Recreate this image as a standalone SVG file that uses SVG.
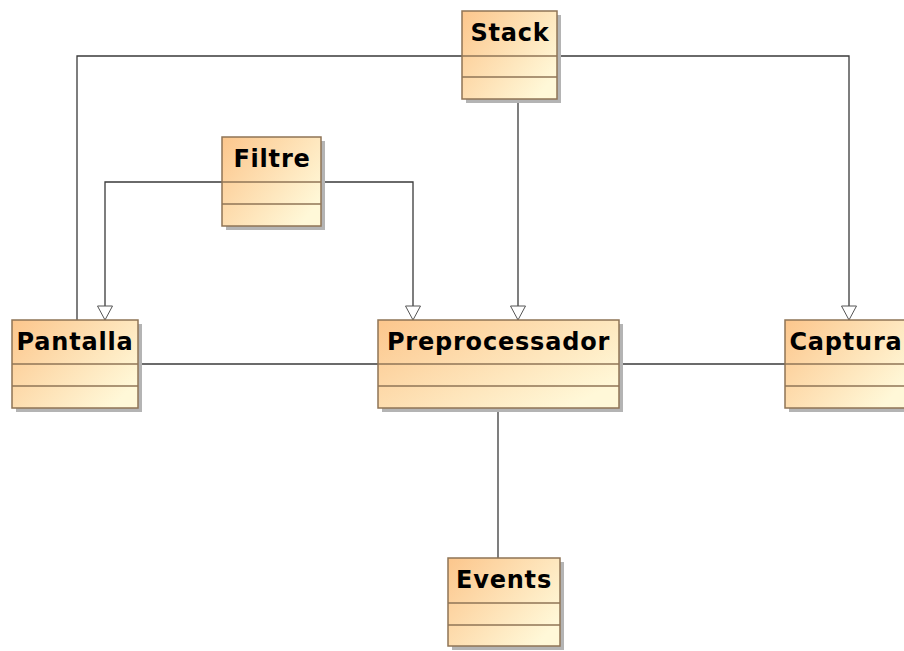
<svg xmlns="http://www.w3.org/2000/svg" width="904" height="651" viewBox="0 0 904 651">
  <defs>
    <linearGradient id="classFill" x1="0" y1="0" x2="1" y2="0.7">
      <stop offset="0" stop-color="#fcc68c"/>
      <stop offset="1" stop-color="#fff8d8"/>
    </linearGradient>
    <marker id="gen" viewBox="0 0 16 16" refX="15" refY="8" markerWidth="16" markerHeight="16" markerUnits="userSpaceOnUse" orient="auto">
      <path d="M1,0.5 L15,8 L1,15.5 Z" fill="#ffffff" stroke="#555555" stroke-width="1"/>
    </marker>
  </defs>
  <style>
    .shadow { fill: #b4b4b4; }
    .box { fill: url(#classFill); stroke: #8f7456; stroke-width: 1.5; }
    .div { stroke: #8f7456; stroke-width: 1.5; fill: none; }
    .name { font-family: "DejaVu Sans", Verdana, sans-serif; font-weight: bold; font-size: 24px; letter-spacing: 0.8px; fill: #000000; text-anchor: middle; }
    .conn { fill: none; stroke: #3a3a3a; stroke-width: 1.3; }
  </style>
  <rect width="904" height="651" fill="#ffffff"/>

  <!-- connectors -->
  <g id="connectors">
    <!-- Stack to Pantalla -->
    <polyline class="conn" points="462,56 77,56 77,320"/>
    <!-- Stack to Captura (generalization) -->
    <polyline class="conn" points="557,56 849,56 849,320" marker-end="url(#gen)"/>
    <!-- Stack to Preprocessador (generalization) -->
    <line class="conn" x1="518" y1="100" x2="518" y2="320" marker-end="url(#gen)"/>
    <!-- Filtre to Pantalla (generalization) -->
    <polyline class="conn" points="222,182 105,182 105,320" marker-end="url(#gen)"/>
    <!-- Filtre to Preprocessador (generalization) -->
    <polyline class="conn" points="321,182 413,182 413,320" marker-end="url(#gen)"/>
    <!-- Pantalla to Preprocessador -->
    <line class="conn" x1="138" y1="364" x2="378" y2="364"/>
    <!-- Preprocessador to Captura -->
    <line class="conn" x1="619" y1="364" x2="785" y2="364"/>
    <!-- Preprocessador to Events -->
    <line class="conn" x1="498" y1="408" x2="498" y2="558"/>
  </g>

  <g id="Stack">
    <rect class="shadow" x="466" y="15" width="95" height="88"/>
    <rect class="box" x="462" y="11" width="95" height="88"/>
    <line class="div" x1="462" y1="56" x2="557" y2="56"/>
    <line class="div" x1="462" y1="77" x2="557" y2="77"/>
    <text class="name" x="510" y="41">Stack</text>
  </g>

  <g id="Filtre">
    <rect class="shadow" x="226" y="141" width="99" height="89"/>
    <rect class="box" x="222" y="137" width="99" height="89"/>
    <line class="div" x1="222" y1="182" x2="321" y2="182"/>
    <line class="div" x1="222" y1="204" x2="321" y2="204"/>
    <text class="name" x="272" y="167">Filtre</text>
  </g>

  <g id="Pantalla">
    <rect class="shadow" x="16" y="324" width="126" height="88"/>
    <rect class="box" x="12" y="320" width="126" height="88"/>
    <line class="div" x1="12" y1="364" x2="138" y2="364"/>
    <line class="div" x1="12" y1="386" x2="138" y2="386"/>
    <text class="name" x="75" y="350">Pantalla</text>
  </g>

  <g id="Preprocessador">
    <rect class="shadow" x="382" y="324" width="241" height="88"/>
    <rect class="box" x="378" y="320" width="241" height="88"/>
    <line class="div" x1="378" y1="364" x2="619" y2="364"/>
    <line class="div" x1="378" y1="386" x2="619" y2="386"/>
    <text class="name" x="498.5" y="350">Preprocessador</text>
  </g>

  <g id="Captura">
    <rect class="shadow" x="789" y="324" width="121" height="88"/>
    <rect class="box" x="785" y="320" width="121" height="88"/>
    <line class="div" x1="785" y1="364" x2="906" y2="364"/>
    <line class="div" x1="785" y1="386" x2="906" y2="386"/>
    <text class="name" x="846" y="350">Captura</text>
  </g>

  <g id="Events">
    <rect class="shadow" x="452" y="562" width="112" height="88"/>
    <rect class="box" x="448" y="558" width="112" height="88"/>
    <line class="div" x1="448" y1="603" x2="560" y2="603"/>
    <line class="div" x1="448" y1="625" x2="560" y2="625"/>
    <text class="name" x="504" y="588">Events</text>
  </g>
</svg>
